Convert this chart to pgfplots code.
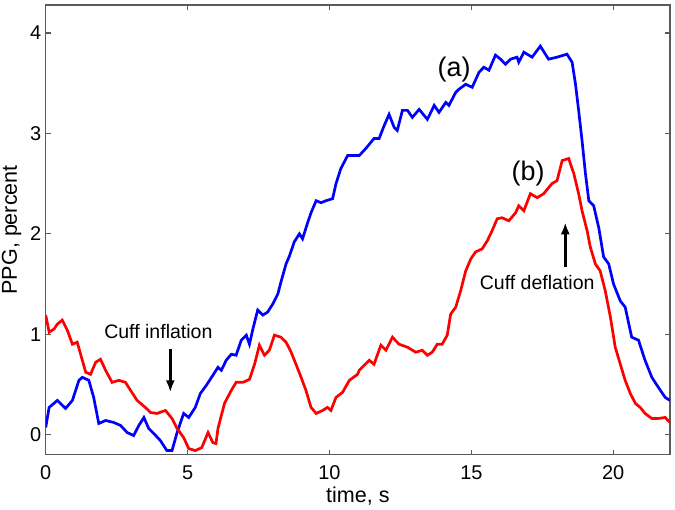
\documentclass[border=0pt]{standalone}
\usepackage{fontspec}
\setmainfont{Liberation Sans}
\usepackage{pgfplots}
\pgfplotsset{compat=1.18}
\usetikzlibrary{arrows.meta}
\definecolor{axgray}{RGB}{90,90,90}

\begin{document}
\begin{tikzpicture}
\path[use as bounding box] (-22.85bp,-27.35bp) rectangle (314.5bp,227.2bp);
\begin{axis}[
    scale only axis,
    width=312bp, height=224.7bp,
    xmin=0, xmax=22, ymin=-0.2, ymax=4.28,
    xtick={0,5,10,15,20}, ytick={0,1,2,3,4},
    tick align=inside,
    major tick length=2.5bp,
    axis line style={axgray, line width=0.6bp},
    every tick/.style={axgray, line width=0.6bp},
    /pgf/number format/assume math mode=true,
    tick label style={font=\fontsize{10}{12}\selectfont},
    xticklabel style={anchor=north, yshift=-2bp},
    yticklabel style={anchor=east, inner sep=0pt, xshift=-2bp},
    xlabel={time, s},
    ylabel={PPG, percent},
    every axis x label/.style={at={(axis description cs:0.5,0)}, anchor=base, yshift=-23.8bp,
        font=\fontsize{10.8}{13}\selectfont},
    every axis y label/.style={at={(axis description cs:-0.0545,0.5)}, anchor=center, rotate=90,
        font=\fontsize{10.8}{13}\selectfont},
    clip=true,
]
\addplot[blue, line width=1.35bp] coordinates {
(0,0.07) (0.12,0.27) (0.41,0.34) (0.7,0.26) (0.94,0.34) (1.17,0.54) (1.29,0.57) (1.52,0.54)
(1.69,0.37) (1.87,0.11) (2.11,0.14) (2.4,0.12) (2.64,0.09) (2.87,0.02) (3.1,-0.01) (3.28,0.09)
(3.46,0.17) (3.63,0.06) (3.81,0.01) (4.04,-0.06) (4.27,-0.16) (4.45,-0.16) (4.63,0.02) (4.86,0.21)
(5.04,0.17) (5.27,0.27) (5.45,0.41) (5.66,0.49) (5.89,0.59) (6.07,0.67) (6.19,0.64) (6.36,0.74)
(6.54,0.80) (6.71,0.79) (6.89,0.94) (7.07,0.99) (7.18,0.90) (7.3,1.05) (7.47,1.24) (7.65,1.19)
(7.82,1.22) (8.0,1.30) (8.18,1.40) (8.29,1.52) (8.47,1.70) (8.59,1.78) (8.76,1.92) (8.94,2.00)
(9.05,1.95) (9.23,2.11) (9.35,2.21) (9.53,2.33) (9.7,2.31) (9.88,2.33) (10.11,2.35) (10.23,2.50)
(10.4,2.65) (10.64,2.78) (10.87,2.78) (11.05,2.78) (11.28,2.85) (11.57,2.95) (11.75,2.95) (11.93,3.08)
(12.1,3.19) (12.28,3.06) (12.39,3.03) (12.57,3.23) (12.75,3.23) (12.92,3.16) (13.16,3.24) (13.45,3.14)
(13.69,3.28) (13.86,3.21) (14.1,3.31) (14.21,3.28) (14.45,3.41) (14.56,3.44) (14.8,3.49) (15.03,3.46)
(15.27,3.61) (15.44,3.66) (15.62,3.63) (15.85,3.78) (16.03,3.74) (16.2,3.69) (16.38,3.74) (16.61,3.76)
(16.67,3.71) (16.85,3.81) (17.14,3.76) (17.43,3.87) (17.72,3.74) (18.02,3.76) (18.37,3.79) (18.55,3.71)
(18.67,3.49) (18.78,3.23) (18.9,2.93) (19.02,2.60) (19.14,2.33) (19.31,2.28) (19.49,2.06) (19.66,1.77)
(19.84,1.70) (20.01,1.50) (20.25,1.33) (20.42,1.27) (20.65,0.97) (20.89,0.94) (21.12,0.74) (21.36,0.57)
(21.59,0.47) (21.83,0.37) (22.0,0.34)
};
\addplot[red, line width=1.35bp] coordinates {
(0,1.19) (0.12,1.02) (0.29,1.05) (0.41,1.10) (0.58,1.14) (0.76,1.04) (0.94,0.90) (1.11,0.92)
(1.29,0.74) (1.41,0.62) (1.58,0.60) (1.76,0.72) (1.93,0.75) (2.11,0.64) (2.34,0.52) (2.58,0.54)
(2.81,0.52) (2.99,0.44) (3.22,0.34) (3.51,0.27) (3.69,0.22) (3.92,0.21) (4.22,0.24) (4.45,0.16)
(4.63,0.06) (4.86,-0.03) (5.04,-0.14) (5.27,-0.16) (5.5,-0.13) (5.72,0.02) (5.89,-0.08) (6.0,-0.09)
(6.07,0.06) (6.3,0.31) (6.54,0.44) (6.71,0.52) (6.95,0.52) (7.18,0.55) (7.36,0.70) (7.53,0.89)
(7.71,0.79) (7.88,0.84) (8.06,0.99) (8.29,0.97) (8.47,0.92) (8.65,0.82) (8.82,0.70) (9.0,0.57)
(9.17,0.44) (9.35,0.27) (9.53,0.21) (9.76,0.24) (9.93,0.27) (10.05,0.24) (10.23,0.37) (10.46,0.42)
(10.7,0.54) (10.99,0.60) (11.05,0.64) (11.4,0.74) (11.57,0.70) (11.81,0.89) (11.99,0.84) (12.22,0.97)
(12.45,0.90) (12.75,0.87) (13.04,0.82) (13.27,0.84) (13.45,0.79) (13.62,0.82) (13.8,0.90) (13.97,0.90)
(14.15,0.99) (14.27,1.20) (14.45,1.27) (14.62,1.43) (14.8,1.63) (14.98,1.75) (15.15,1.82) (15.38,1.85)
(15.56,1.93) (15.73,2.03) (15.91,2.15) (16.08,2.16) (16.32,2.13) (16.56,2.21) (16.67,2.28) (16.85,2.23)
(17.08,2.40) (17.32,2.36) (17.55,2.40) (17.84,2.50) (18.02,2.53) (18.2,2.73) (18.43,2.75) (18.61,2.60)
(18.78,2.40) (18.9,2.23) (19.08,2.03) (19.19,1.87) (19.37,1.70) (19.54,1.63) (19.72,1.43) (19.9,1.17)
(20.07,0.87) (20.25,0.70) (20.42,0.54) (20.6,0.41) (20.78,0.31) (20.95,0.27) (21.12,0.21) (21.36,0.16)
(21.59,0.16) (21.83,0.17) (22.0,0.12)
};
\node[font=\fontsize{13.5}{16}\selectfont] at (axis cs:14.39,3.64) {(a)};
\node[font=\fontsize{13.5}{16}\selectfont] at (axis cs:17.0,2.6) {(b)};
\node[font=\fontsize{9.8}{12}\selectfont, anchor=base] at (axis cs:3.97,0.96) {Cuff inflation};
\node[font=\fontsize{9.8}{12}\selectfont, anchor=base] at (axis cs:17.32,1.45) {Cuff deflation};
\draw[black, line width=1.3bp, -{Latex[length=6bp,width=4.5bp]}] (axis cs:4.39,0.853) -- (axis cs:4.39,0.42);
\draw[black, line width=1.3bp, -{Latex[length=6bp,width=4.5bp]}] (axis cs:18.31,1.666) -- (axis cs:18.31,2.115);
\end{axis}
\end{tikzpicture}
\end{document}
